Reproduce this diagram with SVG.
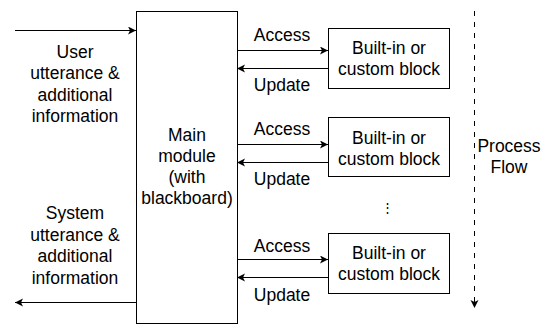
<svg xmlns="http://www.w3.org/2000/svg" width="547" height="325" viewBox="0 0 547 325">
<style>
text{font-family:"Liberation Sans",Arial,sans-serif;font-size:17.5px;fill:#000}
.c{text-anchor:middle}
.box{fill:#fff;stroke:#000;stroke-width:1}
.ln{fill:none;stroke:#000;stroke-width:1}
.dash{fill:none;stroke:#000;stroke-width:1;stroke-dasharray:5 6}
</style>
<defs>
<marker id="ah" markerUnits="userSpaceOnUse" markerWidth="10" markerHeight="10" refX="8" refY="4" orient="auto">
<path d="M0,0 L8,4 L0,8 L2,4 z" fill="#000"/>
</marker>
</defs>
<g id="connectors">
<line class="ln" x1="15" y1="30.5" x2="136" y2="30.5" marker-end="url(#ah)"/>
<line class="ln" x1="136" y1="302.5" x2="15" y2="302.5" marker-end="url(#ah)"/>
<line class="ln" x1="237" y1="50.5" x2="328" y2="50.5" marker-end="url(#ah)"/>
<line class="ln" x1="328" y1="68.5" x2="237" y2="68.5" marker-end="url(#ah)"/>
<line class="ln" x1="237" y1="144.5" x2="328" y2="144.5" marker-end="url(#ah)"/>
<line class="ln" x1="328" y1="162.5" x2="237" y2="162.5" marker-end="url(#ah)"/>
<line class="ln" x1="237" y1="259.5" x2="328" y2="259.5" marker-end="url(#ah)"/>
<line class="ln" x1="328" y1="277.5" x2="237" y2="277.5" marker-end="url(#ah)"/>
<line class="dash" x1="474.5" y1="11" x2="474.5" y2="308" marker-end="url(#ah)"/>
</g>
<g id="user-label">
<text class="c" x="75" y="57.5">User</text>
<text class="c" x="75" y="79">utterance &amp;</text>
<text class="c" x="75" y="100.5">additional</text>
<text class="c" x="75" y="122">information</text>
</g>
<g id="system-label">
<text class="c" x="75" y="219">System</text>
<text class="c" x="75" y="240.5">utterance &amp;</text>
<text class="c" x="75" y="262">additional</text>
<text class="c" x="75" y="283.5">information</text>
</g>
<g id="main-module">
<rect class="box" x="136.5" y="11.5" width="101" height="312"/>
<text class="c" x="187" y="141">Main</text>
<text class="c" x="187" y="162">module</text>
<text class="c" x="187" y="183">(with</text>
<text class="c" x="187" y="204">blackboard)</text>
</g>
<g id="block1">
<rect class="box" x="328.5" y="28.5" width="121" height="60"/>
<text class="c" x="389" y="54">Built-in or</text>
<text class="c" x="389" y="75">custom block</text>
</g>
<g id="block2">
<rect class="box" x="328.5" y="117.5" width="121" height="59"/>
<text class="c" x="389" y="143.5">Built-in or</text>
<text class="c" x="389" y="164.5">custom block</text>
</g>
<g id="block3">
<rect class="box" x="328.5" y="233.5" width="121" height="60"/>
<text class="c" x="389" y="259">Built-in or</text>
<text class="c" x="389" y="280">custom block</text>
</g>
<g id="labels">
<text class="c" x="282" y="41">Access</text>
<text class="c" x="282" y="91">Update</text>
<text class="c" x="282" y="135">Access</text>
<text class="c" x="282" y="185">Update</text>
<text class="c" x="282" y="251.5">Access</text>
<text class="c" x="282" y="301">Update</text>
<text class="c" x="387.5" y="212" style="font-size:13px">⋮</text>
<text class="c" x="509" y="152">Process</text>
<text class="c" x="509" y="173">Flow</text>
</g>
</svg>
